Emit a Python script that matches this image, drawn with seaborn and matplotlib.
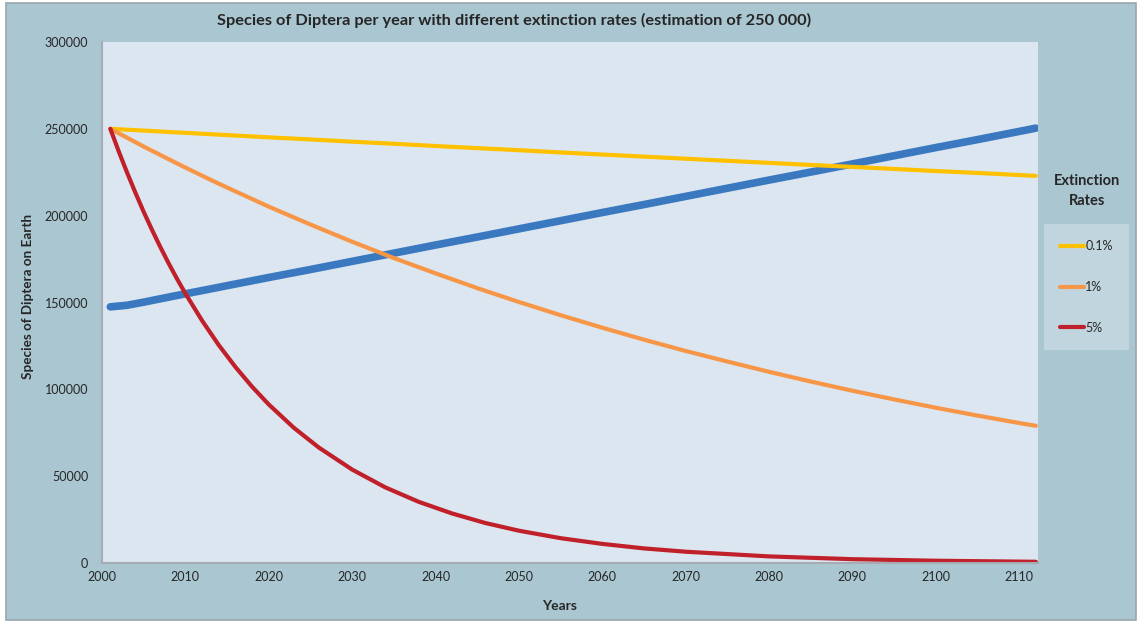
import numpy as np
import pandas as pd
import matplotlib
matplotlib.use("Agg")
import matplotlib.pyplot as plt
from matplotlib.patches import Rectangle
import seaborn as sns

# ---- data ----
years = [2001, 2003, 2005, 2008, 2010, 2013, 2015, 2020, 2025, 2030, 2035, 2040,
         2045, 2050, 2055, 2060, 2065, 2070, 2075, 2080, 2085, 2090, 2095, 2100,
         2105, 2110, 2112]
rate_01 = [250000, 249500, 249000, 248200, 247700, 246900, 246400, 245100, 243900,
           242600, 241400, 240100, 238900, 237700, 236400, 235200, 234000, 232800,
           231600, 230400, 229200, 228100, 226900, 225700, 224600, 223400, 222900]
rate_1 = [250000, 244900, 239800, 232500, 227700, 220700, 216200, 205200, 194900,
          185000, 175600, 166800, 158300, 150300, 142700, 135500, 128600, 122100,
          116000, 110100, 104500, 99200, 94200, 89400, 84900, 80600, 79000]
years_5 = [2001, 2002, 2003, 2004, 2005, 2006, 2007, 2008, 2009, 2010, 2012, 2014,
           2016, 2018, 2020, 2023, 2026, 2030, 2034, 2038, 2042, 2046, 2050, 2055,
           2060, 2065, 2070, 2080, 2090, 2100, 2112]
rate_5 = [250000, 237100, 224900, 213300, 202200, 191800, 181900, 172500, 163600,
          155200, 139600, 125500, 112900, 101500, 91300, 77900, 66500, 53800, 43500,
          35200, 28500, 23000, 18600, 14300, 11000, 8400, 6500, 3800, 2200, 1300, 700]
species_blue = [147500, 148400, 150200, 153100, 155000, 157800, 159700, 164400,
                169000, 173700, 178400, 183100, 187700, 192400, 197100, 201800,
                206400, 211100, 215800, 220500, 225100, 229800, 234500, 239200,
                243800, 248500, 250400]
rate_labels = ["0.1%", "1%", "5%"]
x_ticks = [2000, 2010, 2020, 2030, 2040, 2050, 2060, 2070, 2080, 2090, 2100, 2110]
y_ticks = [0, 50000, 100000, 150000, 200000, 250000, 300000]

title = "Species of Diptera per year with different extinction rates (estimation of 250 000)"
xlabel = "Years"
ylabel = "Species of Diptera on Earth"
legend_title = "Extinction\nRates"

df = pd.concat([
    pd.DataFrame({"Year": years, "Species": rate_01, "Rate": rate_labels[0]}),
    pd.DataFrame({"Year": years, "Species": rate_1, "Rate": rate_labels[1]}),
    pd.DataFrame({"Year": years_5, "Species": rate_5, "Rate": rate_labels[2]}),
], ignore_index=True)

# ---- style ----
sns.set_theme(style="white")
plt.rcParams["font.family"] = ["Lato", "DejaVu Sans"]
plt.rcParams["lines.solid_joinstyle"] = "round"

OUTER = "#AAC6D1"
INNER = "#DCE6F1"
TXT = "#262626"
palette = {"0.1%": "#FFC000", "1%": "#F79646", "5%": "#C0202A"}
BLUE = "#3A79BF"

W, H = 1141, 621
fig = plt.figure(figsize=(W / 100, H / 100), dpi=100, facecolor="white")
bg = Rectangle((6 / W, 1 - 620 / H), (1136 - 6) / W, (620 - 3) / H,
               transform=fig.transFigure, facecolor=OUTER,
               edgecolor="#9AA5AD", linewidth=1.2, zorder=-10)
fig.add_artist(bg)

ax = fig.add_axes([102 / W, 1 - 563 / H, (1037.5 - 102) / W, (563 - 42) / H])
ax.set_zorder(1)
ax.set_facecolor(INNER)

sns.lineplot(x=years, y=species_blue, color=BLUE, linewidth=5.5, ax=ax,
             legend=False, solid_capstyle="round")
sns.lineplot(data=df, x="Year", y="Species", hue="Rate", hue_order=rate_labels,
             palette=palette, linewidth=3, ax=ax, sort=False)

ax.set_xlim(2000, 2112.2)
ax.set_ylim(0, 300000)
ax.set_xticks(x_ticks)
ax.set_xticklabels([str(t) for t in x_ticks])
ax.set_yticks(y_ticks)
ax.set_yticklabels([str(t) for t in y_ticks])
ax.tick_params(axis="both", length=0, labelsize=9, colors=TXT, pad=6)
ax.tick_params(axis="y", pad=10)
for s in ["top", "right"]:
    ax.spines[s].set_visible(False)
for s in ["left", "bottom"]:
    ax.spines[s].set_color("#A6ACB2")
    ax.spines[s].set_linewidth(1.5)

ax.set_xlabel("")
ax.set_ylabel("")
fig.text(560 / W, 1 - 606 / H, xlabel, ha="center", va="center",
         fontsize=10, fontweight="bold", color=TXT)
fig.text(28 / W, 1 - 296 / H, ylabel, ha="center", va="center", rotation=90,
         fontsize=9.7, fontweight="bold", color=TXT)
fig.text(514 / W, 1 - 20 / H, title, ha="center", va="center",
         fontsize=11.8, fontweight="bold", color=TXT)

handles, labels = ax.get_legend_handles_labels()
leg = ax.legend(handles, labels, loc="upper left",
                bbox_to_anchor=(1044 / W, 1 - 224 / H), bbox_transform=fig.transFigure,
                frameon=True, fancybox=False, facecolor="#C1D5DF", edgecolor="none",
                framealpha=1, fontsize=9, borderpad=1.3, labelspacing=2.3,
                handlelength=1.9, handletextpad=0.1, borderaxespad=0)
for t in leg.get_texts():
    t.set_color(TXT)
fig.text(1087 / W, 1 - 191 / H, legend_title, ha="center", va="center",
         fontsize=10.5, fontweight="bold", color=TXT, linespacing=1.5)

fig.savefig("out.png", dpi=100, facecolor="white")
